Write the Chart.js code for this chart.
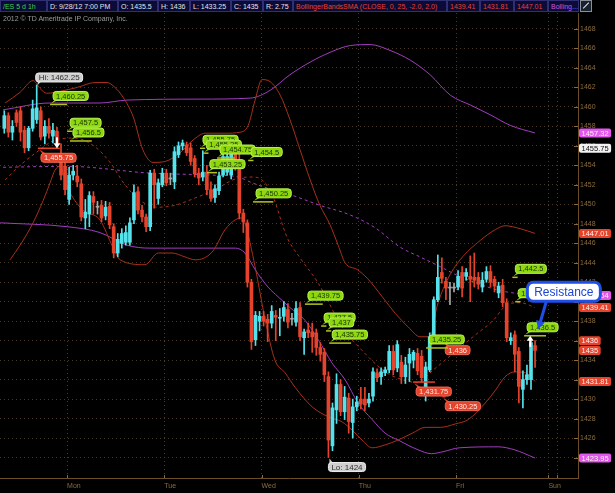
<!DOCTYPE html>
<html>
<head>
<meta charset="utf-8">
<script src="https://cdn.jsdelivr.net/npm/chart.js@4.4.0/dist/chart.umd.min.js"></script>
<style>
  html, body { margin: 0; padding: 0; background: #000; }
  #wrap { position: relative; width: 615px; height: 493px; overflow: hidden; background: #000; }
  #chart { position: absolute; left: 0; top: 0; }
  #head { position: absolute; left: 0; top: 0; width: 615px; height: 12px; font: 7px "Liberation Sans", Arial, sans-serif; }
  #head span { position: absolute; top: 0; height: 12px; line-height: 11px; box-sizing: border-box;
    background: #0b0b38; border: 1px solid #2f2f72; color: #e4e4e4; padding-left: 2px; white-space: nowrap; overflow: hidden; }
  #head .g { color: #3fd04a; }
  #head .r { color: #e8402c; }
  #head .p { color: #c45ae0; }
  #icon { position: absolute; left: 580px; top: 0; width: 12px; height: 12px; box-sizing: border-box; border: 1px solid #8a8f99; background: #17222e; }
  #icon i { position: absolute; left: 1px; top: 4px; width: 8px; height: 1px; background: #e8e8e8; transform: rotate(-45deg); }
  #copy { position: absolute; left: 3px; top: 15px; line-height: 9px; font: 7px "Liberation Sans", Arial, sans-serif; color: #9c9c9c; }
</style>
</head>
<body>
<div id="wrap">
  <canvas id="chart" width="615" height="493"></canvas>
  <div id="head">
    <span class="g" style="left:0;width:47px">/ES 5 d 1h</span>
    <span style="left:47px;width:71px">D: 9/28/12 7:00 PM</span>
    <span style="left:118px;width:40px">O: 1435.5</span>
    <span style="left:158px;width:32px">H: 1436</span>
    <span style="left:190px;width:41px">L: 1433.25</span>
    <span style="left:231px;width:32px">C: 1435</span>
    <span style="left:263px;width:30px">R: 2.75</span>
    <span class="r" style="left:293px;width:154px">BollingerBandsSMA (CLOSE, 0, 25, -2.0, 2.0)</span>
    <span class="r" style="left:447px;width:33px">1439.41</span>
    <span class="r" style="left:480px;width:34px">1431.81</span>
    <span class="r" style="left:514px;width:34px">1447.01</span>
    <span class="p" style="left:548px;width:31px">Bolling...</span>
    <div id="icon"><i></i></div>
  </div>
  <div id="copy">2012 © TD Ameritrade IP Company, Inc.</div>
</div>
<script>
// hourly bars, index 0 = first bar on the left
const opens = [1457.8,1459.1,1457.4,1459.4,1459.6,1457.6,1455.8,1457.8,1458.7,1459.6,
  1457.0,1458.0,1457.0,1457.5,1454.9,1453.9,1450.5,1453.0,1452.9,1452.1,
  1448.6,1449.0,1450.8,1449.7,1449.9,1448.8,1449.8,1447.7,1445.0,1446.0,
  1446.1,1446.1,1448.4,1451.3,1449.4,1448.7,1447.7,1453.2,1450.6,1452.0,
  1453.2,1452.6,1452.3,1455.1,1456.0,1456.1,1455.8,1454.7,1453.2,1452.8,
  1453.3,1451.5,1450.7,1451.4,1453.0,1453.3,1453.0,1455.4,1454.2,1449.1,
  1448.1,1442.0,1436.1,1438.0,1438.5,1438.2,1437.8,1438.6,1438.3,1438.5,
  1439.2,1438.2,1437.9,1439.4,1436.3,1437.1,1436.9,1436.8,1435.3,1434.8,
  1432.3,1425.2,1428.9,1431.5,1428.7,1430.1,1427.6,1429.2,1430.0,1430.0,
  1429.6,1430.3,1432.7,1432.3,1432.7,1433.0,1434.9,1433.2,1433.8,1432.3,
  1433.7,1434.0,1434.7,1434.4,1430.5,1433.0,1436.4,1440.2,1443.0,1442.1,
  1441.4,1441.4,1441.5,1443.0,1442.6,1442.6,1442.5,1442.5,1441.5,1442.3,
  1443.1,1442.3,1440.9,1441.7,1439.9,1436.0,1436.6,1434.9,1431.0,1432.0,
  1432.0,1435.5];
const highs = [1459.6,1459.4,1458.6,1459.7,1460.0,1458.0,1458.0,1460.7,1462.25,1460.0,
  1458.6,1458.8,1458.3,1457.9,1456.2,1454.3,1453.8,1454.0,1454.0,1452.6,
  1450.5,1451.3,1451.3,1450.3,1450.4,1450.3,1450.2,1448.0,1447.0,1447.5,
  1447.8,1448.6,1452.0,1451.8,1449.9,1449.0,1453.5,1453.6,1452.6,1453.7,
  1453.6,1453.2,1455.9,1456.4,1456.6,1456.4,1456.3,1455.0,1453.7,1455.5,
  1454.0,1452.3,1452.0,1453.3,1455.8,1455.5,1455.8,1455.8,1455.3,1449.5,
  1448.4,1442.3,1439.0,1439.0,1439.0,1438.7,1439.6,1439.1,1439.3,1440.0,
  1439.8,1438.8,1440.0,1439.9,1437.2,1437.8,1437.8,1437.2,1435.8,1435.2,
  1432.8,1429.6,1432.6,1432.0,1431.3,1430.6,1430.0,1430.3,1431.2,1431.2,
  1430.6,1433.2,1433.1,1433.2,1433.3,1435.5,1435.5,1436.0,1434.5,1434.3,
  1435.2,1435.0,1435.2,1435.0,1433.8,1436.8,1440.5,1444.8,1444.5,1442.5,
  1442.0,1441.9,1443.2,1443.6,1443.4,1444.7,1445.0,1443.0,1443.0,1443.6,
  1443.7,1442.6,1442.0,1442.3,1440.3,1436.8,1437.0,1435.3,1432.9,1433.5,
  1436.0,1436.0];
const lows = [1457.3,1456.9,1456.6,1458.0,1456.5,1455.3,1455.5,1457.5,1458.3,1456.6,
  1456.2,1456.8,1456.3,1455.75,1452.5,1451.0,1450.0,1452.5,1451.8,1448.3,
  1447.5,1447.7,1449.0,1449.0,1448.2,1448.4,1447.5,1444.5,1444.6,1445.5,
  1445.8,1445.8,1448.0,1449.0,1448.2,1447.2,1447.3,1449.6,1450.0,1451.8,
  1451.9,1452.0,1451.6,1454.8,1455.6,1455.0,1454.0,1452.8,1452.0,1452.4,
  1451.0,1450.3,1450.2,1451.0,1452.8,1453.0,1452.6,1453.5,1448.5,1447.1,
  1441.5,1435.1,1435.5,1437.0,1437.5,1435.9,1437.3,1436.0,1436.5,1438.0,
  1437.3,1437.6,1437.5,1436.0,1434.6,1436.3,1434.8,1434.5,1433.9,1431.8,
  1424.0,1424.7,1427.5,1428.3,1427.9,1426.5,1426.0,1428.8,1429.0,1428.8,
  1429.2,1429.8,1431.8,1431.5,1432.4,1432.7,1432.5,1432.8,1431.6,1431.6,
  1431.8,1433.2,1432.5,1431.75,1429.8,1432.8,1435.9,1440.0,1441.9,1440.2,
  1439.7,1441.0,1441.2,1440.5,1442.2,1440.0,1441.5,1441.3,1441.0,1442.0,
  1441.5,1441.0,1440.4,1439.5,1435.9,1435.6,1432.8,1429.6,1429.1,1431.5,
  1431.0,1433.25];
const closes = [1459.1,1457.4,1458.0,1458.4,1457.4,1455.8,1457.8,1459.8,1459.9,1456.9,
  1458.0,1457.3,1457.6,1456.3,1453.0,1451.5,1453.0,1453.4,1452.3,1448.7,
  1449.2,1450.9,1450.2,1449.7,1448.6,1449.7,1447.9,1445.0,1446.4,1447.0,
  1447.1,1448.1,1451.2,1449.4,1448.7,1447.7,1453.2,1452.0,1452.2,1453.2,
  1452.2,1452.6,1455.4,1456.0,1456.3,1455.3,1454.4,1453.1,1452.7,1453.3,
  1451.5,1450.6,1451.6,1452.9,1454.9,1454.9,1455.3,1454.0,1449.1,1448.2,
  1442.0,1435.9,1438.6,1438.5,1438.0,1437.8,1439.0,1438.4,1438.4,1439.4,
  1437.9,1438.2,1439.3,1436.4,1436.9,1436.8,1436.4,1435.3,1434.6,1432.5,
  1425.8,1429.1,1431.5,1428.7,1430.2,1427.7,1429.2,1429.7,1429.5,1429.4,
  1430.0,1432.8,1432.2,1432.8,1433.0,1434.9,1433.0,1435.6,1432.3,1433.5,
  1434.6,1434.8,1432.9,1432.2,1433.3,1436.4,1440.2,1442.5,1442.4,1441.4,
  1441.4,1441.4,1442.6,1441.4,1443.0,1442.3,1442.2,1441.8,1442.2,1443.1,
  1442.0,1441.6,1441.6,1439.9,1436.3,1436.3,1434.6,1431.3,1432.0,1432.5,
  1435.8,1435.0];

// Bollinger bands: [bar index, price]
const redUpper = [[0.2,1460.4],[3.9,1461.5],[7.1,1462.7],[8.8,1461.9],[10.5,1461.4],[13.8,1461.6],[18,1462.0],
  [22.4,1462.5],[25.4,1462.5],[27.3,1462.0],[29.3,1461.0],[31.8,1459.0],[34.2,1455.6],[36.7,1454.3],
  [39.7,1454.4],[43.4,1455.3],[46.6,1456.6],[49.6,1457.3],[54.5,1457.3],[58.2,1457.4],[60.2,1458.1],
  [61.9,1460.7],[63.6,1462.8],[65.6,1462.6],[68.1,1461.2],[70.5,1458.7],[73,1455.6],[75.5,1452.5],
  [77.9,1449.9],[80.4,1447.9],[82.4,1445.8],[84.1,1444.0],[87.1,1443.3],[89.6,1442.4],[93.3,1440.5],
  [96.5,1438.8],[99.7,1437.4],[102.6,1436.4],[105.1,1436.4],[106.8,1439.5],[109.3,1442.2],[112.5,1444.3],
  [117.5,1446.3],[121.2,1447.4],[123.6,1447.8],[127.3,1447.5],[131,1447.01]];
const redMid = [[0.2,1452.5],[3.9,1454.0],[8.8,1455.6],[12.5,1456.6],[17.5,1456.8],[22.4,1455.9],[26.1,1454.3],
  [29.8,1452.0],[33.5,1450.4],[38,1449.7],[42.1,1449.9],[47.1,1450.65],[52,1451.5],[57,1452.6],[61.2,1452.8],
  [63.6,1452.5],[66.1,1451.0],[69.8,1446.6],[73,1444.5],[77.5,1441.9],[83.4,1437.4],[88.3,1435.0],[94,1432.8],
  [98.2,1432.0],[101.9,1431.7],[105.9,1433.0],[110.8,1434.7],[115.7,1436.4],[120.7,1438.1],[124.1,1439.7],
  [127.3,1439.9],[131,1439.41]];
const redLower = [[1.4,1444.3],[3.9,1445.8],[7.1,1448.1],[9.6,1450.4],[11.3,1452.2],[12.5,1453.5],[13.8,1453.9],
  [15.5,1451.8],[19.4,1449.4],[23.6,1448.4],[26.8,1445.6],[28.6,1444.3],[34.7,1443.8],[38,1445.0],[41.4,1445.0],
  [44.6,1444.6],[47.1,1444.3],[51.3,1445.1],[54.5,1447.4],[57,1448.4],[58.7,1448.6],[59.4,1448.1],[61.9,1443.6],
  [64.4,1438.1],[66.8,1434.0],[69.3,1432.7],[71.8,1431.2],[76,1429.2],[79.9,1428.2],[83.4,1427.65],[85.9,1426.8],
  [88.3,1425.8],[90.8,1425.0],[94,1425.3],[97.2,1425.8],[100.7,1426.5],[103.9,1427.1],[107.6,1427.1],
  [111.3,1427.45],[114.5,1427.9],[118.7,1429.6],[121.2,1430.9],[123.6,1432.3],[126.1,1432.8],[128.6,1432.7],
  [131,1431.81]];
const purpleUpper = [[-0.3,1459.7],[11.3,1460.4],[23.6,1460.4],[30.3,1460.7],[48.3,1460.8],[60.7,1460.9],
  [65.6,1461.7],[70.5,1463.3],[75.5,1464.6],[80.4,1465.6],[85.4,1466.3],[90.3,1466.4],[95.2,1465.8],
  [100.2,1464.8],[105.1,1463.3],[110.1,1461.2],[115,1460.2],[119.9,1459.2],[124.9,1458.1],[131,1457.32]];
const purpleMid = [[-0.3,1453.8],[15.5,1453.9],[36,1453.2],[51.3,1453.0],[57.7,1452.8],[61.2,1452.2],
  [66.1,1451.5],[70.5,1451.0],[77.9,1449.9],[85.4,1448.9],[91.5,1447.6],[97.7,1445.6],[102.6,1444.6],
  [107.6,1443.6],[111.8,1442.7],[116.7,1441.9],[121.7,1441.2],[125.6,1440.9],[131,1440.64]];
const purpleLower = [[-1,1448.1],[15.5,1447.7],[23.6,1447.1],[30.3,1445.8],[36,1445.5],[47.1,1445.5],[57,1445.5],
  [59.4,1445.0],[61.9,1443.3],[65.1,1441.5],[67.6,1440.5],[70.5,1439.4],[74.2,1438.1],[77.5,1436.1],
  [80.9,1433.7],[84.1,1432.0],[87.3,1429.6],[90.8,1427.9],[94,1426.5],[97.2,1425.8],[102.1,1424.8],
  [105.4,1424.4],[108.3,1424.6],[112.3,1425.0],[121.9,1425.1],[125.9,1424.8],[131,1423.95]];

// axis ticks
const priceTicks = [1424,1426,1428,1430,1432,1434,1436,1438,1440,1442,1444,1446,1448,1450,1452,1454,1456,1458,1460,1462,1464,1466,1468];
const dayTicks = [15.5, 39.5, 63.5, 87.5, 111.5, 134.3, 136.5];
const dayLabels = ['Mon', 'Tue', 'Wed', 'Thu', 'Fri', 'Sun', ''];

// price marks on the chart (bar index where the mark starts, its length in bars)
const greenText = ['1,460.25','1,457.5','1,456.5','1,455.75','1,455.25','1,454.75','1,454.5','1,453.25','1,450.25',
  '1,439.75','1,437.5','1,437','1,435.75','1,435.25','1,442.5','1,440','1,436.5'];
const greenPrice = [1460.25,1457.5,1456.5,1455.75,1455.25,1454.75,1454.5,1453.25,1450.25,
  1439.75,1437.5,1437,1435.75,1435.25,1442.5,1440,1436.5];
const greenBar = [11.3,15.5,16.2,48.3,49.1,52.5,60.2,50.0,61.4,74.2,78.2,79.4,80.2,104.1,125.4,126.1,128.3];
const greenSpan = [4.2,1.3,5.4,1.3,1.3,4.4,1.3,2.5,5,4.4,1.3,1.3,5.4,5.4,1.3,1.3,5.4];
const redText = ['1,455.75','1,436','1,431.75','1,430.25'];
const redPrice = [1455.75,1436,1431.75,1430.25];
const redBar = [8.3,108.1,100.9,108.1];
const redSpan = [5.4,0,5.4,0.8];
const arrowBar = [13, 129.8];
const arrowPrice = [1455.75, 1436.5];
const hiBar = 8, loBar = 80;
const resistText = 'Resistance';
const resistAt = [129.1, 1442.0];
const resistTarget = [131.8, 1437.2];

// last values shown on the price axis
const tagValues = [1457.32, 1455.75, 1447.01, 1440.64, 1439.41, 1436, 1435, 1431.81, 1423.95];
const tagKinds = ['purple', 'last', 'red', 'purple', 'red', 'red', 'red', 'red', 'purple'];

const UP = '#55e2ec', DOWN = '#e5432b', FLAT = '#a8a8a8';
const FONT = '"Liberation Sans", Arial, sans-serif';
const barColor = opens.map((o, i) => closes[i] > o ? UP : (closes[i] < o ? DOWN : FLAT));
const pts = arr => arr.map(p => ({ x: p[0], y: p[1] }));

function band(label, arr, color, dash) {
  return {
    type: 'line', label, data: pts(arr), borderColor: color, borderWidth: 1,
    borderDash: dash ? [3, 3] : [], pointRadius: 0, cubicInterpolationMode: 'monotone', order: 3
  };
}

function rrect(ctx, x, y, w, h, r, fill, stroke, lw) {
  ctx.beginPath();
  ctx.roundRect(x, y, w, h, r);
  ctx.fillStyle = fill;
  ctx.fill();
  if (stroke) { ctx.lineWidth = lw || 1; ctx.strokeStyle = stroke; ctx.stroke(); }
}

function tri(ctx, a, b, c, fill) {
  ctx.beginPath();
  ctx.moveTo(a[0], a[1]); ctx.lineTo(b[0], b[1]); ctx.lineTo(c[0], c[1]);
  ctx.closePath();
  ctx.fillStyle = fill;
  ctx.fill();
}

function hline(ctx, x1, x2, y, color) {
  ctx.beginPath();
  ctx.moveTo(x1, y); ctx.lineTo(x2, y);
  ctx.strokeStyle = color; ctx.lineWidth = 1.5; ctx.stroke();
}

const overlay = {
  id: 'overlay',
  afterDatasetsDraw(chart) {
    const ctx = chart.ctx;
    const xs = chart.scales.x, ys = chart.scales.y, area = chart.chartArea;
    const px = v => xs.getPixelForValue(v), py = v => ys.getPixelForValue(v);
    ctx.save();
    ctx.textBaseline = 'middle';

    // small tick marks
    ctx.strokeStyle = '#8a6a3a'; ctx.lineWidth = 1;
    priceTicks.forEach(v => {
      const y = Math.round(py(v)) + 0.5;
      ctx.beginPath(); ctx.moveTo(area.right - 4, y); ctx.lineTo(area.right, y); ctx.stroke();
    });
    dayTicks.forEach(v => {
      const x = Math.round(px(v)) + 0.5;
      ctx.beginPath(); ctx.moveTo(x, area.bottom - 3); ctx.lineTo(x, area.bottom); ctx.stroke();
    });

    // red marks, bubble under the line
    ctx.font = '7.5px ' + FONT;
    redText.forEach((t, k) => {
      const lx = px(redBar[k]), lx2 = px(redBar[k] + redSpan[k]), ly = py(redPrice[k]);
      if (redSpan[k] > 0) hline(ctx, lx, lx2, ly, '#e5432b');
      const w = ctx.measureText(t).width + 6, h = 9, left = lx + 3, top = ly + 5;
      tri(ctx, [left + 2, top + 1], [left + 6, top + 1], [lx + 1, ly + 1], '#e5432b');
      rrect(ctx, left, top, w, h, 3, '#e5432b', '#f06a50');
      ctx.fillStyle = '#ffeae4';
      ctx.fillText(t, left + 3, top + h / 2 + 0.5);
    });

    // green marks, bubble above the line
    greenText.forEach((t, k) => {
      const lx = px(greenBar[k]), lx2 = px(greenBar[k] + greenSpan[k]), ly = py(greenPrice[k]);
      hline(ctx, lx, lx2, ly, '#b5c41c');
      const w = ctx.measureText(t).width + 6, h = 9, left = lx + 3, bottom = ly - 4;
      tri(ctx, [left + 2, bottom - 1], [left + 6, bottom - 1], [lx + 1, ly - 1], '#8fd80e');
      rrect(ctx, left, bottom - h, w, h, 3, '#8fd80e', '#b8f25a');
      ctx.fillStyle = '#163008';
      ctx.fillText(t, left + 3, bottom - h / 2 + 0.5);
    });

    // white arrows
    arrowBar.forEach((b, k) => {
      const x = px(b), y = py(arrowPrice[k]), dir = k === 0 ? -1 : 1;
      ctx.fillStyle = '#ffffff';
      ctx.fillRect(x - 1, dir < 0 ? y - 11 : y + 4, 2, 7);
      tri(ctx, [x - 3.5, y + dir * 5], [x + 3.5, y + dir * 5], [x, y], '#ffffff');
    });

    // Hi / Lo bubbles
    ctx.font = '8px ' + FONT;
    const hx = px(hiBar), hy = py(highs[hiBar]);
    const hiText = 'Hi: ' + highs[hiBar];
    const hw = ctx.measureText(hiText).width + 6;
    tri(ctx, [hx + 1, hy - 4], [hx + 5, hy - 4], [hx + 1, hy], '#cfcfcf');
    rrect(ctx, hx - 1, hy - 12, hw, 9, 3, '#cfcfcf', '#eeeeee');
    ctx.fillStyle = '#303030';
    ctx.fillText(hiText, hx + 2, hy - 7);
    const lx = px(loBar), ly = py(lows[loBar]);
    const loText = 'Lo: ' + lows[loBar];
    const lw = ctx.measureText(loText).width + 6;
    tri(ctx, [lx + 1, ly + 6], [lx + 5, ly + 6], [lx + 1, ly + 1], '#cfcfcf');
    rrect(ctx, lx, ly + 5, lw, 9, 3, '#cfcfcf', '#eeeeee');
    ctx.fillStyle = '#303030';
    ctx.fillText(loText, lx + 3, ly + 10);

    // price axis tags
    ctx.font = '7.5px ' + FONT;
    tagValues.forEach((v, k) => {
      const t = String(v), y = py(v), w = ctx.measureText(t).width + 5;
      const kind = tagKinds[k];
      const bg = kind === 'purple' ? '#e257ec' : (kind === 'red' ? '#e5432b' : '#f2f2f2');
      rrect(ctx, area.right + 1, y - 4.5, w, 9, 2, bg);
      ctx.fillStyle = kind === 'last' ? '#111111' : '#fff0f0';
      ctx.fillText(t, area.right + 3.5, y + 0.5);
    });

    // Resistance callout
    const rx = px(resistAt[0]), ry = py(resistAt[1]), rw = 73, rh = 19;
    const tx = px(resistTarget[0]), ty = py(resistTarget[1]);
    const sx = rx + 19, sy = ry + rh;
    const ang = Math.atan2(ty - sy, tx - sx);
    ctx.beginPath();
    ctx.moveTo(sx, sy);
    ctx.lineTo(tx - Math.cos(ang) * 6, ty - Math.sin(ang) * 6);
    ctx.strokeStyle = '#1f4fe6'; ctx.lineWidth = 3; ctx.stroke();
    const ca = Math.cos(ang), sa = Math.sin(ang);
    tri(ctx, [tx, ty], [tx - 8 * ca + 4.5 * sa, ty - 8 * sa - 4.5 * ca], [tx - 8 * ca - 4.5 * sa, ty - 8 * sa + 4.5 * ca], '#1f4fe6');
    rrect(ctx, rx, ry, rw, rh, 6, '#ffffff', '#1f4fe6', 3);
    ctx.font = '12px ' + FONT;
    ctx.fillStyle = '#1d46d0';
    ctx.textAlign = 'center';
    ctx.fillText(resistText, rx + rw / 2, ry + rh / 2 + 0.5);
    ctx.restore();
  }
};

const idx = opens.map((o, i) => i);

new Chart(document.getElementById('chart'), {
  type: 'bar',
  data: {
    datasets: [
      {
        label: 'body', data: idx.map(i => ({ x: i, y: [opens[i], closes[i]] })),
        backgroundColor: barColor, barThickness: 3, minBarLength: 1, grouped: false, order: 1
      },
      {
        label: 'wick', data: idx.map(i => ({ x: i, y: [lows[i], highs[i]] })),
        backgroundColor: barColor, barThickness: 1, grouped: false, order: 2
      },
      band('red upper', redUpper, '#a8301c', false),
      band('red mid', redMid, '#a8301c', true),
      band('red lower', redLower, '#a8301c', false),
      band('purple upper', purpleUpper, '#a23cc0', false),
      band('purple mid', purpleMid, '#a23cc0', true),
      band('purple lower', purpleLower, '#a23cc0', false)
    ]
  },
  options: {
    responsive: false,
    animation: false,
    layout: { padding: { top: 13, left: 0, right: 0, bottom: 0 } },
    plugins: { legend: { display: false }, tooltip: { enabled: false } },
    scales: {
      x: {
        type: 'linear', min: -1.06, max: 141.6, offset: false,
        afterBuildTicks: s => { s.ticks = dayTicks.map(v => ({ value: v })); },
        afterFit: s => { s.height = 15; },
        ticks: {
          autoSkip: false, maxRotation: 0, align: 'start', padding: 4,
          color: '#8c6c3c', font: { family: FONT, size: 7 },
          callback: (v, i) => dayLabels[i]
        },
        grid: { color: '#4a3820', drawTicks: false, offset: false },
        border: { color: '#6b4e26', dash: [1, 3] }
      },
      y: {
        type: 'linear', position: 'right', min: 1421.9, max: 1469.64,
        afterBuildTicks: s => { s.ticks = priceTicks.map(v => ({ value: v })); },
        afterFit: s => { s.width = 37; },
        ticks: { padding: 2, color: '#8c6c3c', font: { family: FONT, size: 7 }, callback: v => String(v) },
        grid: { color: '#4a3820', drawTicks: false },
        border: { color: '#6b4e26', dash: [1, 3] }
      }
    }
  },
  plugins: [overlay]
});
</script>
</body>
</html>
